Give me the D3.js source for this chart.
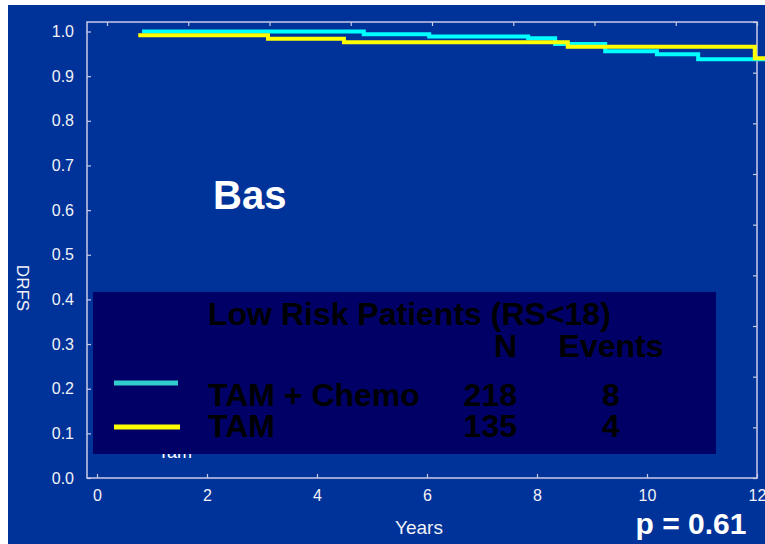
<!DOCTYPE html>
<html>
<head>
<meta charset="utf-8">
<script src="https://cdn.jsdelivr.net/npm/d3@7"></script>
<style>
  body { margin: 0; background: #fff; }
  svg { display: block; font-family: "Liberation Sans", Arial, sans-serif; }
</style>
</head>
<body>
<svg id="chart" width="765" height="544"></svg>
<script>
// Kaplan-Meier step data (years, DRFS)
const chemoYears = [0.82, 4.85, 6.04, 7.84, 8.33, 9.24, 10.18, 10.93, 12.15]
const chemoDrfs  = [1.0, 0.994, 0.989, 0.985, 0.972, 0.956, 0.949, 0.938, 0.938]
const tamYears   = [0.75, 3.11, 4.49, 8.56, 11.96, 12.15]
const tamDrfs    = [0.9915, 0.984, 0.976, 0.966, 0.94, 0.94]

const xTicks = [0, 2, 4, 6, 8, 10, 12]
const yTicks = [0, 0.1, 0.2, 0.3, 0.4, 0.5, 0.6, 0.7, 0.8, 0.9, 1.0]

const legendTitle = "Low Risk Patients (RS<18)"
const groups = ["TAM + Chemo", "TAM"]
const groupN = [218, 135]
const groupEvents = [8, 4]

const svg = d3.select('#chart')
const frameColor = '#c8cce6'
const labelColor = '#f2f2f8'

// page background: white margin then slide blue
svg.append('rect').attr('width', 765).attr('height', 544).attr('fill', '#fff')
svg.append('rect').attr('x', 8).attr('y', 5).attr('width', 757).attr('height', 539).attr('fill', '#003399')

const x = d3.scaleLinear().domain([0, 12]).range([97, 757])
const y = d3.scaleLinear().domain([0, 1]).range([478, 31.5])

// frame lines
svg.append('rect')
    .attr('x', 87).attr('y', 22)
    .attr('width', 670).attr('height', 456)
    .attr('fill', 'none')
    .attr('stroke', frameColor)
    .attr('stroke-width', 1.5)

const styleAxis = function (g) {
    g.select('.domain').remove()
    g.selectAll('.tick line').attr('stroke', frameColor).attr('stroke-width', 1.2)
    g.selectAll('.tick text')
        .attr('fill', labelColor)
        .style('font-size', '16px')
        .style('font-family', '"Liberation Sans", Arial, sans-serif')
}

svg.append('g')
    .attr('transform', 'translate(0,478)')
    .call(d3.axisBottom(x).tickValues(xTicks).tickFormat(d3.format('d')).tickSize(-4).tickSizeOuter(0).tickPadding(12))
    .call(styleAxis)

svg.append('g')
    .attr('transform', 'translate(87,0)')
    .call(d3.axisLeft(y).tickValues(yTicks).tickFormat(d3.format('.1f')).tickSize(-4).tickSizeOuter(0).tickPadding(13))
    .call(styleAxis)

// the top and right edges carry their own unlabelled tick marks
const topTicks = d3.scaleLinear().domain([0, 8]).range([107, 757])
const rightTicks = d3.scaleLinear().domain([0, 9]).range([478, 22])

svg.append('g')
    .attr('transform', 'translate(0,22)')
    .call(d3.axisTop(topTicks).ticks(8).tickFormat('').tickSize(-4).tickSizeOuter(0))
    .call(styleAxis)

svg.append('g')
    .attr('transform', 'translate(757,0)')
    .call(d3.axisRight(rightTicks).ticks(9).tickFormat('').tickSize(-4).tickSizeOuter(0))
    .call(styleAxis)

// axis titles
svg.append('text')
    .attr('transform', 'translate(17,288) rotate(90)')
    .attr('text-anchor', 'middle')
    .attr('fill', labelColor)
    .style('font-size', '17px')
    .text('DRFS')

svg.append('text')
    .attr('x', 419).attr('y', 534)
    .attr('text-anchor', 'middle')
    .attr('fill', labelColor)
    .style('font-size', '19px')
    .text('Years')

// survival curves
const step = d3.line()
    .x(d => x(d[0]))
    .y(d => y(d[1]))
    .curve(d3.curveStepAfter)

svg.append('path')
    .datum(d3.zip(chemoYears, chemoDrfs))
    .attr('d', step)
    .attr('fill', 'none')
    .attr('stroke', '#00ffff')
    .attr('stroke-width', 4)

svg.append('path')
    .datum(d3.zip(tamYears, tamDrfs))
    .attr('d', step)
    .attr('fill', 'none')
    .attr('stroke', '#ffff00')
    .attr('stroke-width', 4)

svg.append('text')
    .attr('x', 213).attr('y', 209)
    .attr('fill', '#fff')
    .style('font-size', '40px')
    .style('font-weight', 'bold')
    .text('Bas')

// leftover label, mostly hidden under the legend box
svg.append('text')
    .attr('x', 158).attr('y', 458)
    .attr('fill', '#fff')
    .style('font-size', '18px')
    .text('Tam')

// legend box
const legend = svg.append('g')
legend.append('rect')
    .attr('x', 93).attr('y', 292)
    .attr('width', 623).attr('height', 162)
    .attr('fill', '#000066')

const legendColors = ['#33cccc', '#ffff00']
const rowY = [406, 437]
const lineY = [383, 427]

legend.selectAll('line.key')
    .data(groups)
    .join('line')
    .attr('class', 'key')
    .attr('x1', 114)
    .attr('x2', (d, i) => i == 0 ? 178 : 180)
    .attr('y1', (d, i) => lineY[i])
    .attr('y2', (d, i) => lineY[i])
    .attr('stroke', (d, i) => legendColors[i])
    .attr('stroke-width', 5)

const legendFont = function (t) {
    t.attr('fill', '#000').style('font-size', '32px').style('font-weight', 'bold')
}

legend.append('text').attr('x', 208).attr('y', 325).text(legendTitle).call(legendFont)
legend.append('text').attr('x', 517).attr('y', 357).attr('text-anchor', 'end').text('N').call(legendFont)
legend.append('text').attr('x', 611).attr('y', 357).attr('text-anchor', 'middle').text('Events').call(legendFont)

groups.forEach((name, i) => {
    legend.append('text').attr('x', 208).attr('y', rowY[i]).text(name).call(legendFont)
    legend.append('text').attr('x', 517).attr('y', rowY[i]).attr('text-anchor', 'end').text(groupN[i]).call(legendFont)
    legend.append('text').attr('x', 611).attr('y', rowY[i]).attr('text-anchor', 'middle').text(groupEvents[i]).call(legendFont)
})

svg.append('text')
    .attr('x', 691).attr('y', 534)
    .attr('text-anchor', 'middle')
    .attr('fill', '#fff')
    .style('font-size', '30px')
    .style('font-weight', 'bold')
    .text('p = 0.61')
</script>
</body>
</html>
